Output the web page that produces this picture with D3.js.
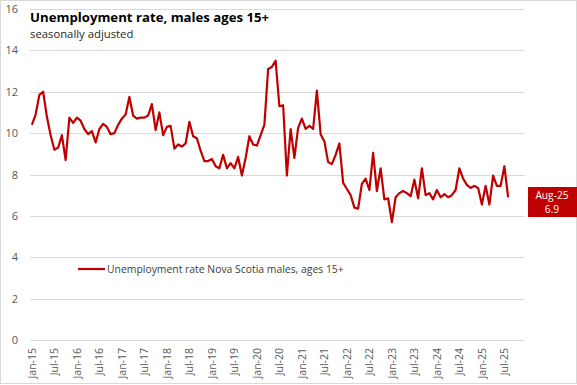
<!DOCTYPE html>
<html>
<head>
<meta charset="utf-8">
<script src="https://cdn.jsdelivr.net/npm/d3@7"></script>
<style>
  html, body { margin: 0; padding: 0; background: #fff; }
  svg { display: block; font-family: "Open Sans", "Noto Sans", sans-serif; }
</style>
</head>
<body>
<svg id="chart" width="577" height="385"></svg>
<script>
const years = ["15","16","17","18","19","20","21","22","23","24","25"];
const monthNames = ["Jan","Feb","Mar","Apr","May","Jun","Jul","Aug","Sep","Oct","Nov","Dec"];
const months = years.flatMap(y => monthNames.map(m => m + "-" + y)); // Jan-15 .. Dec-25 (axis span)

const values = [
  10.4, 10.9, 11.85, 12.0, 10.8, 9.9, 9.2, 9.3, 9.9, 8.7, 10.75, 10.5,
  10.75, 10.6, 10.2, 9.95, 10.1, 9.55, 10.2, 10.45, 10.3, 9.95, 10.0, 10.4,
  10.7, 10.9, 11.75, 10.85, 10.7, 10.75, 10.75, 10.85, 11.4, 10.15, 11.0, 9.9,
  10.3, 10.35, 9.25, 9.45, 9.35, 9.5, 10.55, 9.85, 9.75, 9.15, 8.65, 8.65,
  8.75, 8.4, 8.3, 8.95, 8.3, 8.55, 8.3, 8.85, 7.95, 8.8, 9.85, 9.45,
  9.4, 9.9, 10.4, 13.1, 13.2, 13.5, 11.3, 11.35, 7.95, 10.2, 8.8, 10.25,
  10.7, 10.2, 10.35, 10.2, 12.05, 9.95, 9.6, 8.6, 8.5, 8.95, 9.5, 7.6,
  7.3, 7.0, 6.4, 6.35, 7.55, 7.8, 7.25, 9.05, 7.2, 8.3, 6.8, 6.85,
  5.7, 6.9, 7.1, 7.2, 7.1, 6.95, 7.75, 6.85, 8.3, 7.0, 7.1, 6.8,
  7.25, 6.9, 7.05, 6.9, 7.0, 7.25, 8.3, 7.8, 7.5, 7.35, 7.45, 7.35,
  6.55, 7.45, 6.55, 7.95, 7.45, 7.45, 8.4, 6.9
];
const dataMonths = months.slice(0, values.length);
const tickLabels = months.filter((m, i) => i % 6 === 0 && i < values.length);
const yTicks = [0, 2, 4, 6, 8, 10, 12, 14, 16];

const title = "Unemployment rate, males ages 15+";
const subtitle = "seasonally adjusted";
const seriesName = "Unemployment rate Nova Scotia males, ages 15+";
const lastLabel = dataMonths[dataMonths.length - 1];
const lastValue = values[values.length - 1];

const red = "#C00000";
const svg = d3.select("#chart");

// outer border
svg.append("rect").attr("x", 0.5).attr("y", 0.5).attr("width", 576).attr("height", 383)
  .attr("fill", "#fff").attr("stroke", "#d9d9d9");

const x = d3.scaleBand().domain(months).range([30, 525]);
const xc = m => x(m) + x.bandwidth() / 2;
const y = d3.scaleLinear().domain([0, 16]).range([340, 9]);

// gridlines
svg.append("g").selectAll("line").data(yTicks).join("line")
  .attr("x1", 30).attr("x2", 525)
  .attr("y1", d => Math.round(y(d)) + 0.5).attr("y2", d => Math.round(y(d)) + 0.5)
  .attr("stroke", "#d9d9d9").attr("stroke-width", 1);

// y axis labels
const yAxis = d3.axisLeft(y).tickValues(yTicks).tickSize(0).tickPadding(0);
const gy = svg.append("g").attr("transform", "translate(18,0)").call(yAxis);
gy.select(".domain").remove();
gy.selectAll("text").attr("fill", "#595959").style("font-size", "11px")
  .style("font-family", "'Open Sans', sans-serif");

// x axis labels
const xAxis = d3.axisBottom(x).tickValues(tickLabels).tickSize(0).tickPadding(0);
const gx = svg.append("g").attr("transform", "translate(0,348)").call(xAxis);
gx.select(".domain").remove();
gx.selectAll("text")
  .attr("fill", "#595959").style("font-size", "10.5px")
  .style("font-family", "'Open Sans', sans-serif")
  .attr("transform", "rotate(-90)")
  .attr("text-anchor", "end")
  .attr("x", 0).attr("y", 0).attr("dx", 0).attr("dy", "0.35em");

// line
const line = d3.line().x((d, i) => xc(dataMonths[i])).y(d => y(d));
svg.append("path").datum(values)
  .attr("fill", "none").attr("stroke", red).attr("stroke-width", 2.2)
  .attr("stroke-linejoin", "round").attr("d", line);

// title
svg.append("text").attr("x", 30).attr("y", 21.5).text(title)
  .attr("fill", "#000").style("font-weight", "bold").style("font-size", "13.2px")
  .style("font-family", "'Open Sans', sans-serif");
svg.append("text").attr("x", 30).attr("y", 37.8).text(subtitle)
  .attr("fill", "#262626").style("font-size", "11.3px")
  .style("font-family", "'Open Sans', sans-serif");

// legend
svg.append("line").attr("x1", 78).attr("x2", 105).attr("y1", 269).attr("y2", 269)
  .attr("stroke", red).attr("stroke-width", 2.2);
svg.append("text").attr("x", 107).attr("y", 272.5).text(seriesName)
  .attr("fill", "#404040").style("font-size", "10.4px")
  .style("font-family", "'Open Sans', sans-serif");

// last value label
svg.append("rect").attr("x", 528).attr("y", 187).attr("width", 49).attr("height", 30).attr("fill", red);
svg.append("text").attr("x", 552).attr("y", 198.5).attr("text-anchor", "middle").text(lastLabel)
  .attr("fill", "#fff").style("font-size", "10.2px").style("font-family", "'Open Sans', sans-serif");
svg.append("text").attr("x", 552).attr("y", 213).attr("text-anchor", "middle").text(lastValue.toFixed(1))
  .attr("fill", "#fff").style("font-size", "10.2px").style("font-family", "'Open Sans', sans-serif");
</script>
</body>
</html>
